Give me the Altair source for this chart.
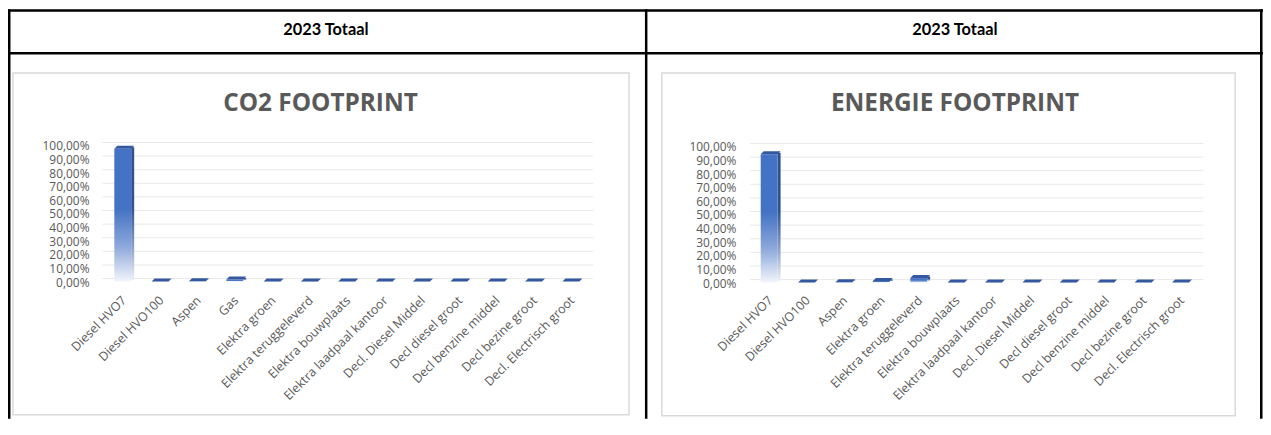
import altair as alt
import pandas as pd

# ---------------- data ----------------
co2_categories = ["Diesel HVO7", "Diesel HVO100", "Aspen", "Gas", "Elektra groen",
                  "Elektra teruggeleverd", "Elektra bouwplaats", "Elektra laadpaal kantoor",
                  "Decl. Diesel Middel", "Decl diesel groot", "Decl benzine middel",
                  "Decl bezine groot", "Decl. Electrisch groot"]
co2_values = [97.6, 0.05, 0.2, 1.5, 0.1, 0.1, 0.1, 0.1, 0.1, 0.05, 0.05, 0.05, 0.05]

energie_categories = ["Diesel HVO7", "Diesel HVO100", "Aspen", "Elektra groen",
                      "Elektra teruggeleverd", "Elektra bouwplaats", "Elektra laadpaal kantoor",
                      "Decl. Diesel Middel", "Decl diesel groot", "Decl benzine middel",
                      "Decl bezine groot", "Decl. Electrisch groot"]
energie_values = [94.3, 0.05, 0.3, 1.2, 3.3, 0.1, 0.1, 0.1, 0.1, 0.05, 0.05, 0.05]

tick_values = [0, 10, 20, 30, 40, 50, 60, 70, 80, 90, 100]
tick_labels = ["0,00%", "10,00%", "20,00%", "30,00%", "40,00%", "50,00%",
               "60,00%", "70,00%", "80,00%", "90,00%", "100,00%"]

header_text = "2023 Totaal"
chart_titles = ["CO2 FOOTPRINT", "ENERGIE FOOTPRINT"]

# ---------------- styles ----------------
W, H = 1263, 412
LABEL_FONT = "Open Sans"
GRAY = "#595959"

front_grad = alt.Gradient(
    gradient="linear", x1=0, x2=0, y1=0, y2=1,
    stops=[alt.GradientStop(color="#4472C4", offset=0),
           alt.GradientStop(color="#4472C4", offset=0.45),
           alt.GradientStop(color="#8EA9DB", offset=0.74),
           alt.GradientStop(color="#F2F5FB", offset=1)])
side_grad = alt.Gradient(
    gradient="linear", x1=0, x2=0, y1=0, y2=1,
    stops=[alt.GradientStop(color="#2F528F", offset=0),
           alt.GradientStop(color="#2F528F", offset=0.45),
           alt.GradientStop(color="#8FA3C8", offset=0.76),
           alt.GradientStop(color="#EEF1F7", offset=1)])
TOP_SHAPE = "M -1 0.15 L 0.7 0.15 L 1 -0.15 L -0.7 -0.15 Z"

dummy = pd.DataFrame({"d": [0]})


def rect(x0, x1, y0, y1, **kw):
    return alt.Chart(dummy).mark_rect(**kw).encode(
        x=alt.value(x0), x2=alt.value(x1), y=alt.value(y0), y2=alt.value(y1))


def label(text, x, y, **kw):
    return alt.Chart(dummy).mark_text(text=text, **kw).encode(
        x=alt.value(x), y=alt.value(y))


def panel(cats, vals, x_range, y_range, grid_x0, grid_x1, ylab_x):
    df = pd.DataFrame({"cat": cats, "val": vals})
    ticks = pd.DataFrame({"t": tick_values, "lab": tick_labels})
    xs = alt.Scale(domain=cats, range=x_range, paddingInner=0, paddingOuter=0)
    ys = alt.Scale(domain=[0, 100], range=y_range, nice=False)
    X = alt.X("cat:N", scale=xs, axis=None, sort=cats)
    Y = alt.Y("val:Q", scale=ys, axis=None)

    grid = alt.Chart(ticks).mark_rule(color="#e8e8e8", strokeWidth=1).encode(
        y=alt.Y("t:Q", scale=ys, axis=None),
        x=alt.value(grid_x0), x2=alt.value(grid_x1))
    ylabels = alt.Chart(ticks).mark_text(
        align="right", baseline="middle", dy=4, font=LABEL_FONT, fontSize=12,
        color=GRAY).encode(
        y=alt.Y("t:Q", scale=ys, axis=None), x=alt.value(ylab_x), text="lab:N")
    side = alt.Chart(df).mark_bar(
        width=3, xOffset=8.5, yOffset=1.5, y2Offset=1.5, color=side_grad).encode(
        x=X, y=Y, y2=alt.datum(0))
    front = alt.Chart(df).mark_bar(
        width=17, xOffset=-1.5, yOffset=3, y2Offset=3, color=front_grad).encode(
        x=X, y=Y, y2=alt.datum(0))
    top = alt.Chart(df).mark_point(
        shape=TOP_SHAPE, size=400, filled=True, opacity=1, color="#34589F",
        strokeWidth=0, yOffset=1.5).encode(x=X, y=Y)
    xlabels = alt.Chart(df).mark_text(
        align="right", baseline="middle", angle=315, font=LABEL_FONT, fontSize=12.5,
        color=GRAY, dx=0).encode(
        x=alt.X("cat:N", scale=xs, axis=None, sort=cats),
        y=alt.value(291), text="cat:N")
    return alt.layer(grid, ylabels, side, front, top, xlabels)


left = panel(co2_categories, co2_values, [98.2, 586.8], [271, 134], 95, 589, 82)
right = panel(energie_categories, energie_values, [748.7, 1200.3], [272, 135], 747, 1203, 733)

deco = [
    # chart boxes
    rect(5, 625, 64, 408, fill="white", stroke="#d9d9d9", strokeWidth=1.5),
    rect(658, 1235, 64, 409, fill="white", stroke="#d9d9d9", strokeWidth=1.5),
    # table borders
    rect(0, 1263, 0, 2.5, color="black"),
    rect(0, 2.5, 0, H, color="black"),
    rect(0, 1263, 43, 45.5, color="black"),
    rect(641, 643.5, 0, H, color="black"),
    rect(1260, 1262.5, 0, H, color="black"),
    # headers
    label(header_text, 320, 21, font="Lato", fontSize=16.5, fontWeight="bold",
          color="black", align="center", baseline="middle"),
    label(header_text, 953, 21, font="Lato", fontSize=16.5, fontWeight="bold",
          color="black", align="center", baseline="middle"),
    # chart titles
    label(chart_titles[0], 314.5, 102, font="Open Sans", fontSize=24.5, fontWeight="bold",
          color=GRAY, align="center", baseline="alphabetic"),
    label(chart_titles[1], 953, 102, font="Open Sans", fontSize=24.5, fontWeight="bold",
          color=GRAY, align="center", baseline="alphabetic"),
]

chart = alt.layer(*deco, left, right).resolve_scale(
    x="independent", y="independent"
).properties(
    width=W, height=H, autosize=alt.AutoSizeParams(type="none"), padding=0
).configure_view(strokeWidth=0)

chart.save("out.html", embed_options={"renderer": "svg", "actions": False})
